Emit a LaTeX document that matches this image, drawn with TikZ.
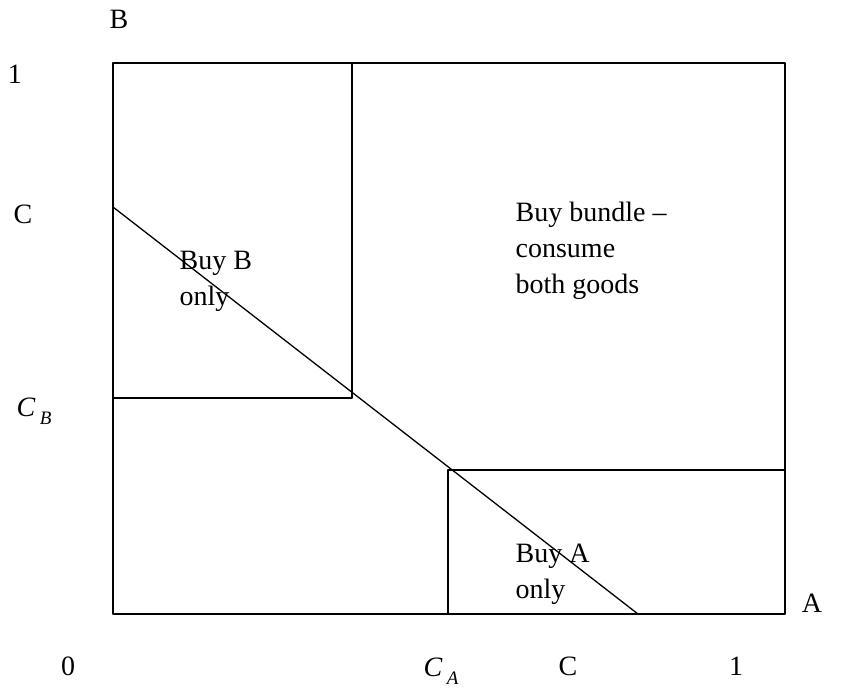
\documentclass[tikz,border=0pt]{standalone}
\usepackage{fontspec}
\setmainfont{Liberation Serif}
\usetikzlibrary{calc,positioning}
\tikzset{
  lbl/.style={inner sep=0pt, font=\fontsize{28}{36}\selectfont},
  region/.style={inner sep=0pt, align=left, anchor=west, font=\fontsize{28}{36}\selectfont},
  every picture/.style={line cap=round, line join=round}
}
\newcommand{\cutsub}[1]{{\itshape C\,\raisebox{-0.3em}{\fontsize{19}{19}\selectfont #1}}}

\begin{document}
\begin{tikzpicture}[x=1pt, y=-1pt, line width=1.3pt]
  \useasboundingbox (0,0) rectangle (849,689);

  % Corners of the box
  \coordinate (o) at (113,614);
  \coordinate (tl) at (113,63);
  \coordinate (tr) at (785,63);
  \coordinate (br) at (785,614);

  % Cut-off points
  \coordinate (cb) at (113,398);
  \coordinate (cbt) at (352,63);
  \coordinate (cbk) at (352,398);
  \coordinate (ca) at (448,614);
  \coordinate (cak) at (448,470);
  \coordinate (car) at (785,470);
  \coordinate (c1) at (113,207);
  \coordinate (c2) at (638,614);

  \draw (o) -- (tl) -- (tr) -- (br) -- cycle;
  \draw (cbt) -- (cbk) -- (cb);
  \draw (ca) -- (cak) -- (car);
  \draw (c1) -- (c2);

  % Axis labels
  \node[lbl] (lb) at (119,19) {B};
  \node[lbl] (l1y) at (15,74) {1};
  \node[lbl] (lcy) at (23,214) {C};
  \node[lbl] (lcb) at (34,411) {\cutsub{B}};
  \node[lbl] (l0) at (68,666) {0};
  \node[lbl] (lca) at (441,671) {\cutsub{A}};
  \node[lbl] (lcx) at (568,666) {C};
  \node[lbl] (l1x) at (736,666) {1};
  \node[lbl] (la) at (812,603) {A};

  % Regions
  \node[region] (bundle) at (515,251) {Buy bundle --\\consume\\both goods};
  \node[region] (onlyb) at (179,281) {Buy B\\only};
  \node[region] (onlya) at (515,574) {Buy A\\only};
\end{tikzpicture}
\end{document}
